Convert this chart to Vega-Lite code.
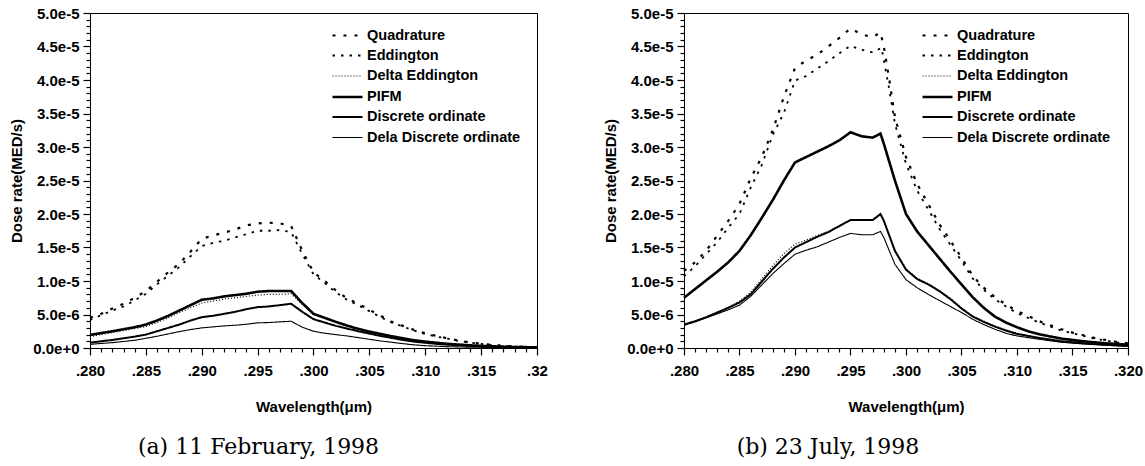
{
  "$schema": "https://vega.github.io/schema/vega-lite/v6.json",
  "background": "white",
  "padding": {"left": 9, "top": 5, "right": 5, "bottom": 3},
  "spacing": 55,
  "config": {
    "view": {"stroke": "black", "strokeWidth": 1},
    "axis": {
      "domainColor": "black", "tickColor": "black", "labelColor": "black", "titleColor": "black",
      "labelFont": "Liberation Sans", "labelFontSize": 15, "labelFontWeight": "bold",
      "titleFont": "Liberation Sans", "titleFontSize": 15, "titleFontWeight": "bold",
      "tickWidth": 1.2, "domainWidth": 1,
      "grid": false, "labelOverlap": false, "labelFlush": false, "labelBound": false
    }
  },
  "datasets": {
    "feb": [
      {"method":"Quadrature","w":0.280,"v":4.5e-6},{"method":"Quadrature","w":0.281,"v":5.1e-6},{"method":"Quadrature","w":0.282,"v":5.9e-6},{"method":"Quadrature","w":0.283,"v":6.6e-6},{"method":"Quadrature","w":0.284,"v":7.5e-6},{"method":"Quadrature","w":0.285,"v":8.5e-6},{"method":"Quadrature","w":0.286,"v":9.9e-6},{"method":"Quadrature","w":0.287,"v":11.3e-6},{"method":"Quadrature","w":0.288,"v":12.6e-6},{"method":"Quadrature","w":0.289,"v":14.4e-6},{"method":"Quadrature","w":0.290,"v":16.3e-6},{"method":"Quadrature","w":0.291,"v":16.8e-6},{"method":"Quadrature","w":0.292,"v":17.2e-6},{"method":"Quadrature","w":0.293,"v":17.7e-6},{"method":"Quadrature","w":0.294,"v":18.3e-6},{"method":"Quadrature","w":0.295,"v":18.6e-6},{"method":"Quadrature","w":0.296,"v":18.7e-6},{"method":"Quadrature","w":0.297,"v":18.6e-6},{"method":"Quadrature","w":0.298,"v":18.2e-6},{"method":"Quadrature","w":0.299,"v":14.5e-6},{"method":"Quadrature","w":0.300,"v":11.3e-6},{"method":"Quadrature","w":0.301,"v":10.0e-6},{"method":"Quadrature","w":0.302,"v":8.6e-6},{"method":"Quadrature","w":0.303,"v":7.4e-6},{"method":"Quadrature","w":0.304,"v":6.6e-6},{"method":"Quadrature","w":0.305,"v":5.7e-6},{"method":"Quadrature","w":0.306,"v":4.8e-6},{"method":"Quadrature","w":0.307,"v":3.9e-6},{"method":"Quadrature","w":0.308,"v":3.3e-6},{"method":"Quadrature","w":0.309,"v":2.7e-6},{"method":"Quadrature","w":0.310,"v":2.2e-6},{"method":"Quadrature","w":0.311,"v":1.8e-6},{"method":"Quadrature","w":0.312,"v":1.45e-6},{"method":"Quadrature","w":0.313,"v":1.1e-6},{"method":"Quadrature","w":0.314,"v":0.85e-6},{"method":"Quadrature","w":0.315,"v":0.65e-6},{"method":"Quadrature","w":0.316,"v":0.45e-6},{"method":"Quadrature","w":0.317,"v":0.33e-6},{"method":"Quadrature","w":0.318,"v":0.23e-6},{"method":"Quadrature","w":0.319,"v":0.16e-6},{"method":"Quadrature","w":0.320,"v":0.12e-6},
      {"method":"Eddington","w":0.280,"v":4.2e-6},{"method":"Eddington","w":0.281,"v":4.9e-6},{"method":"Eddington","w":0.282,"v":5.6e-6},{"method":"Eddington","w":0.283,"v":6.2e-6},{"method":"Eddington","w":0.284,"v":7.1e-6},{"method":"Eddington","w":0.285,"v":8.1e-6},{"method":"Eddington","w":0.286,"v":9.5e-6},{"method":"Eddington","w":0.287,"v":10.8e-6},{"method":"Eddington","w":0.288,"v":12.1e-6},{"method":"Eddington","w":0.289,"v":13.7e-6},{"method":"Eddington","w":0.290,"v":15.2e-6},{"method":"Eddington","w":0.291,"v":15.7e-6},{"method":"Eddington","w":0.292,"v":16.0e-6},{"method":"Eddington","w":0.293,"v":16.5e-6},{"method":"Eddington","w":0.294,"v":17.0e-6},{"method":"Eddington","w":0.295,"v":17.5e-6},{"method":"Eddington","w":0.296,"v":17.5e-6},{"method":"Eddington","w":0.297,"v":17.6e-6},{"method":"Eddington","w":0.298,"v":17.3e-6},{"method":"Eddington","w":0.299,"v":14.0e-6},{"method":"Eddington","w":0.300,"v":11.0e-6},{"method":"Eddington","w":0.301,"v":9.7e-6},{"method":"Eddington","w":0.302,"v":8.3e-6},{"method":"Eddington","w":0.303,"v":7.2e-6},{"method":"Eddington","w":0.304,"v":6.4e-6},{"method":"Eddington","w":0.305,"v":5.5e-6},{"method":"Eddington","w":0.306,"v":4.6e-6},{"method":"Eddington","w":0.307,"v":3.8e-6},{"method":"Eddington","w":0.308,"v":3.2e-6},{"method":"Eddington","w":0.309,"v":2.6e-6},{"method":"Eddington","w":0.310,"v":2.1e-6},{"method":"Eddington","w":0.311,"v":1.7e-6},{"method":"Eddington","w":0.312,"v":1.4e-6},{"method":"Eddington","w":0.313,"v":1.05e-6},{"method":"Eddington","w":0.314,"v":0.8e-6},{"method":"Eddington","w":0.315,"v":0.6e-6},{"method":"Eddington","w":0.316,"v":0.42e-6},{"method":"Eddington","w":0.317,"v":0.3e-6},{"method":"Eddington","w":0.318,"v":0.21e-6},{"method":"Eddington","w":0.319,"v":0.15e-6},{"method":"Eddington","w":0.320,"v":0.1e-6},
      {"method":"Delta Eddington","w":0.280,"v":1.7e-6},{"method":"Delta Eddington","w":0.282,"v":2.3e-6},{"method":"Delta Eddington","w":0.284,"v":2.9e-6},{"method":"Delta Eddington","w":0.285,"v":3.2e-6},{"method":"Delta Eddington","w":0.286,"v":3.8e-6},{"method":"Delta Eddington","w":0.287,"v":4.5e-6},{"method":"Delta Eddington","w":0.288,"v":5.3e-6},{"method":"Delta Eddington","w":0.289,"v":6.0e-6},{"method":"Delta Eddington","w":0.290,"v":6.7e-6},{"method":"Delta Eddington","w":0.291,"v":7.0e-6},{"method":"Delta Eddington","w":0.292,"v":7.3e-6},{"method":"Delta Eddington","w":0.293,"v":7.5e-6},{"method":"Delta Eddington","w":0.294,"v":7.7e-6},{"method":"Delta Eddington","w":0.295,"v":7.9e-6},{"method":"Delta Eddington","w":0.296,"v":8.0e-6},{"method":"Delta Eddington","w":0.297,"v":8.0e-6},{"method":"Delta Eddington","w":0.298,"v":8.1e-6},{"method":"Delta Eddington","w":0.299,"v":6.5e-6},{"method":"Delta Eddington","w":0.300,"v":5.0e-6},{"method":"Delta Eddington","w":0.301,"v":4.4e-6},{"method":"Delta Eddington","w":0.302,"v":3.85e-6},{"method":"Delta Eddington","w":0.303,"v":3.3e-6},{"method":"Delta Eddington","w":0.304,"v":2.85e-6},{"method":"Delta Eddington","w":0.305,"v":2.45e-6},{"method":"Delta Eddington","w":0.306,"v":2.1e-6},{"method":"Delta Eddington","w":0.307,"v":1.75e-6},{"method":"Delta Eddington","w":0.308,"v":1.45e-6},{"method":"Delta Eddington","w":0.309,"v":1.15e-6},{"method":"Delta Eddington","w":0.310,"v":0.95e-6},{"method":"Delta Eddington","w":0.311,"v":0.78e-6},{"method":"Delta Eddington","w":0.312,"v":0.62e-6},{"method":"Delta Eddington","w":0.314,"v":0.4e-6},{"method":"Delta Eddington","w":0.316,"v":0.25e-6},{"method":"Delta Eddington","w":0.318,"v":0.15e-6},{"method":"Delta Eddington","w":0.320,"v":0.1e-6},
      {"method":"PIFM","w":0.280,"v":1.95e-6},{"method":"PIFM","w":0.282,"v":2.5e-6},{"method":"PIFM","w":0.284,"v":3.1e-6},{"method":"PIFM","w":0.285,"v":3.5e-6},{"method":"PIFM","w":0.286,"v":4.1e-6},{"method":"PIFM","w":0.287,"v":4.8e-6},{"method":"PIFM","w":0.288,"v":5.6e-6},{"method":"PIFM","w":0.289,"v":6.4e-6},{"method":"PIFM","w":0.290,"v":7.2e-6},{"method":"PIFM","w":0.291,"v":7.4e-6},{"method":"PIFM","w":0.292,"v":7.7e-6},{"method":"PIFM","w":0.293,"v":7.9e-6},{"method":"PIFM","w":0.294,"v":8.1e-6},{"method":"PIFM","w":0.295,"v":8.4e-6},{"method":"PIFM","w":0.296,"v":8.5e-6},{"method":"PIFM","w":0.297,"v":8.5e-6},{"method":"PIFM","w":0.298,"v":8.5e-6},{"method":"PIFM","w":0.299,"v":6.7e-6},{"method":"PIFM","w":0.300,"v":5.1e-6},{"method":"PIFM","w":0.301,"v":4.5e-6},{"method":"PIFM","w":0.302,"v":3.9e-6},{"method":"PIFM","w":0.303,"v":3.35e-6},{"method":"PIFM","w":0.304,"v":2.85e-6},{"method":"PIFM","w":0.305,"v":2.45e-6},{"method":"PIFM","w":0.306,"v":2.1e-6},{"method":"PIFM","w":0.307,"v":1.75e-6},{"method":"PIFM","w":0.308,"v":1.45e-6},{"method":"PIFM","w":0.309,"v":1.15e-6},{"method":"PIFM","w":0.310,"v":0.95e-6},{"method":"PIFM","w":0.311,"v":0.78e-6},{"method":"PIFM","w":0.312,"v":0.62e-6},{"method":"PIFM","w":0.314,"v":0.4e-6},{"method":"PIFM","w":0.316,"v":0.25e-6},{"method":"PIFM","w":0.318,"v":0.15e-6},{"method":"PIFM","w":0.320,"v":0.1e-6},
      {"method":"Discrete ordinate","w":0.280,"v":0.8e-6},{"method":"Discrete ordinate","w":0.282,"v":1.2e-6},{"method":"Discrete ordinate","w":0.284,"v":1.7e-6},{"method":"Discrete ordinate","w":0.285,"v":2.0e-6},{"method":"Discrete ordinate","w":0.286,"v":2.5e-6},{"method":"Discrete ordinate","w":0.287,"v":3.0e-6},{"method":"Discrete ordinate","w":0.288,"v":3.5e-6},{"method":"Discrete ordinate","w":0.289,"v":4.1e-6},{"method":"Discrete ordinate","w":0.290,"v":4.6e-6},{"method":"Discrete ordinate","w":0.291,"v":4.8e-6},{"method":"Discrete ordinate","w":0.292,"v":5.1e-6},{"method":"Discrete ordinate","w":0.293,"v":5.4e-6},{"method":"Discrete ordinate","w":0.294,"v":5.8e-6},{"method":"Discrete ordinate","w":0.295,"v":6.1e-6},{"method":"Discrete ordinate","w":0.296,"v":6.2e-6},{"method":"Discrete ordinate","w":0.297,"v":6.4e-6},{"method":"Discrete ordinate","w":0.298,"v":6.6e-6},{"method":"Discrete ordinate","w":0.299,"v":5.4e-6},{"method":"Discrete ordinate","w":0.300,"v":4.3e-6},{"method":"Discrete ordinate","w":0.301,"v":3.8e-6},{"method":"Discrete ordinate","w":0.302,"v":3.3e-6},{"method":"Discrete ordinate","w":0.303,"v":2.9e-6},{"method":"Discrete ordinate","w":0.304,"v":2.5e-6},{"method":"Discrete ordinate","w":0.305,"v":2.15e-6},{"method":"Discrete ordinate","w":0.306,"v":1.8e-6},{"method":"Discrete ordinate","w":0.307,"v":1.5e-6},{"method":"Discrete ordinate","w":0.308,"v":1.2e-6},{"method":"Discrete ordinate","w":0.309,"v":0.95e-6},{"method":"Discrete ordinate","w":0.310,"v":0.78e-6},{"method":"Discrete ordinate","w":0.311,"v":0.62e-6},{"method":"Discrete ordinate","w":0.312,"v":0.5e-6},{"method":"Discrete ordinate","w":0.314,"v":0.32e-6},{"method":"Discrete ordinate","w":0.316,"v":0.2e-6},{"method":"Discrete ordinate","w":0.318,"v":0.12e-6},{"method":"Discrete ordinate","w":0.320,"v":0.08e-6},
      {"method":"Dela Discrete ordinate","w":0.280,"v":0.55e-6},{"method":"Dela Discrete ordinate","w":0.282,"v":0.8e-6},{"method":"Dela Discrete ordinate","w":0.284,"v":1.15e-6},{"method":"Dela Discrete ordinate","w":0.285,"v":1.45e-6},{"method":"Dela Discrete ordinate","w":0.286,"v":1.75e-6},{"method":"Dela Discrete ordinate","w":0.287,"v":2.1e-6},{"method":"Dela Discrete ordinate","w":0.288,"v":2.45e-6},{"method":"Dela Discrete ordinate","w":0.289,"v":2.75e-6},{"method":"Dela Discrete ordinate","w":0.290,"v":3.0e-6},{"method":"Dela Discrete ordinate","w":0.291,"v":3.15e-6},{"method":"Dela Discrete ordinate","w":0.292,"v":3.3e-6},{"method":"Dela Discrete ordinate","w":0.293,"v":3.4e-6},{"method":"Dela Discrete ordinate","w":0.294,"v":3.55e-6},{"method":"Dela Discrete ordinate","w":0.295,"v":3.75e-6},{"method":"Dela Discrete ordinate","w":0.296,"v":3.8e-6},{"method":"Dela Discrete ordinate","w":0.297,"v":3.9e-6},{"method":"Dela Discrete ordinate","w":0.298,"v":4.0e-6},{"method":"Dela Discrete ordinate","w":0.299,"v":3.1e-6},{"method":"Dela Discrete ordinate","w":0.300,"v":2.5e-6},{"method":"Dela Discrete ordinate","w":0.301,"v":2.2e-6},{"method":"Dela Discrete ordinate","w":0.302,"v":2.0e-6},{"method":"Dela Discrete ordinate","w":0.303,"v":1.8e-6},{"method":"Dela Discrete ordinate","w":0.304,"v":1.55e-6},{"method":"Dela Discrete ordinate","w":0.305,"v":1.3e-6},{"method":"Dela Discrete ordinate","w":0.306,"v":1.05e-6},{"method":"Dela Discrete ordinate","w":0.307,"v":0.85e-6},{"method":"Dela Discrete ordinate","w":0.308,"v":0.65e-6},{"method":"Dela Discrete ordinate","w":0.309,"v":0.47e-6},{"method":"Dela Discrete ordinate","w":0.310,"v":0.35e-6},{"method":"Dela Discrete ordinate","w":0.312,"v":0.2e-6},{"method":"Dela Discrete ordinate","w":0.314,"v":0.12e-6},{"method":"Dela Discrete ordinate","w":0.316,"v":0.08e-6},{"method":"Dela Discrete ordinate","w":0.318,"v":0.05e-6},{"method":"Dela Discrete ordinate","w":0.320,"v":0.03e-6}
    ],
    "jul": [
      {"method":"Quadrature","w":0.280,"v":11.5e-6},{"method":"Quadrature","w":0.281,"v":12.8e-6},{"method":"Quadrature","w":0.282,"v":14.5e-6},{"method":"Quadrature","w":0.283,"v":16.8e-6},{"method":"Quadrature","w":0.284,"v":19.0e-6},{"method":"Quadrature","w":0.285,"v":21.5e-6},{"method":"Quadrature","w":0.286,"v":25.3e-6},{"method":"Quadrature","w":0.287,"v":28.5e-6},{"method":"Quadrature","w":0.288,"v":32.5e-6},{"method":"Quadrature","w":0.289,"v":37.5e-6},{"method":"Quadrature","w":0.290,"v":41.8e-6},{"method":"Quadrature","w":0.291,"v":42.9e-6},{"method":"Quadrature","w":0.292,"v":43.8e-6},{"method":"Quadrature","w":0.293,"v":45.0e-6},{"method":"Quadrature","w":0.294,"v":46.3e-6},{"method":"Quadrature","w":0.295,"v":47.7e-6},{"method":"Quadrature","w":0.296,"v":46.8e-6},{"method":"Quadrature","w":0.297,"v":46.4e-6},{"method":"Quadrature","w":0.2977,"v":47.1e-6},{"method":"Quadrature","w":0.298,"v":45.0e-6},{"method":"Quadrature","w":0.2985,"v":40.0e-6},{"method":"Quadrature","w":0.299,"v":34.5e-6},{"method":"Quadrature","w":0.300,"v":28.5e-6},{"method":"Quadrature","w":0.301,"v":24.5e-6},{"method":"Quadrature","w":0.302,"v":21.5e-6},{"method":"Quadrature","w":0.303,"v":18.5e-6},{"method":"Quadrature","w":0.304,"v":16.0e-6},{"method":"Quadrature","w":0.305,"v":13.5e-6},{"method":"Quadrature","w":0.306,"v":10.8e-6},{"method":"Quadrature","w":0.307,"v":9.0e-6},{"method":"Quadrature","w":0.308,"v":7.6e-6},{"method":"Quadrature","w":0.309,"v":6.5e-6},{"method":"Quadrature","w":0.310,"v":5.5e-6},{"method":"Quadrature","w":0.311,"v":4.8e-6},{"method":"Quadrature","w":0.312,"v":4.0e-6},{"method":"Quadrature","w":0.313,"v":3.4e-6},{"method":"Quadrature","w":0.314,"v":2.8e-6},{"method":"Quadrature","w":0.315,"v":2.3e-6},{"method":"Quadrature","w":0.316,"v":1.9e-6},{"method":"Quadrature","w":0.317,"v":1.5e-6},{"method":"Quadrature","w":0.318,"v":1.2e-6},{"method":"Quadrature","w":0.319,"v":0.9e-6},{"method":"Quadrature","w":0.320,"v":0.7e-6},
      {"method":"Eddington","w":0.280,"v":10.7e-6},{"method":"Eddington","w":0.281,"v":12.2e-6},{"method":"Eddington","w":0.282,"v":14.0e-6},{"method":"Eddington","w":0.283,"v":15.8e-6},{"method":"Eddington","w":0.284,"v":18.0e-6},{"method":"Eddington","w":0.285,"v":20.0e-6},{"method":"Eddington","w":0.286,"v":23.9e-6},{"method":"Eddington","w":0.287,"v":27.3e-6},{"method":"Eddington","w":0.288,"v":31.8e-6},{"method":"Eddington","w":0.289,"v":35.1e-6},{"method":"Eddington","w":0.290,"v":39.9e-6},{"method":"Eddington","w":0.291,"v":40.6e-6},{"method":"Eddington","w":0.292,"v":41.7e-6},{"method":"Eddington","w":0.293,"v":42.8e-6},{"method":"Eddington","w":0.294,"v":44.0e-6},{"method":"Eddington","w":0.295,"v":45.1e-6},{"method":"Eddington","w":0.296,"v":44.5e-6},{"method":"Eddington","w":0.297,"v":44.1e-6},{"method":"Eddington","w":0.2978,"v":44.8e-6},{"method":"Eddington","w":0.298,"v":43.0e-6},{"method":"Eddington","w":0.2985,"v":38.5e-6},{"method":"Eddington","w":0.299,"v":33.5e-6},{"method":"Eddington","w":0.300,"v":27.5e-6},{"method":"Eddington","w":0.301,"v":23.5e-6},{"method":"Eddington","w":0.302,"v":20.7e-6},{"method":"Eddington","w":0.303,"v":17.8e-6},{"method":"Eddington","w":0.304,"v":15.4e-6},{"method":"Eddington","w":0.305,"v":13.0e-6},{"method":"Eddington","w":0.306,"v":10.4e-6},{"method":"Eddington","w":0.307,"v":8.7e-6},{"method":"Eddington","w":0.308,"v":7.3e-6},{"method":"Eddington","w":0.309,"v":6.2e-6},{"method":"Eddington","w":0.310,"v":5.2e-6},{"method":"Eddington","w":0.311,"v":4.5e-6},{"method":"Eddington","w":0.312,"v":3.8e-6},{"method":"Eddington","w":0.313,"v":3.2e-6},{"method":"Eddington","w":0.314,"v":2.6e-6},{"method":"Eddington","w":0.315,"v":2.2e-6},{"method":"Eddington","w":0.316,"v":1.8e-6},{"method":"Eddington","w":0.317,"v":1.4e-6},{"method":"Eddington","w":0.318,"v":1.1e-6},{"method":"Eddington","w":0.319,"v":0.85e-6},{"method":"Eddington","w":0.320,"v":0.65e-6},
      {"method":"Delta Eddington","w":0.280,"v":3.5e-6},{"method":"Delta Eddington","w":0.281,"v":4.0e-6},{"method":"Delta Eddington","w":0.282,"v":4.6e-6},{"method":"Delta Eddington","w":0.283,"v":5.3e-6},{"method":"Delta Eddington","w":0.284,"v":6.1e-6},{"method":"Delta Eddington","w":0.285,"v":7.0e-6},{"method":"Delta Eddington","w":0.286,"v":8.3e-6},{"method":"Delta Eddington","w":0.287,"v":10.3e-6},{"method":"Delta Eddington","w":0.288,"v":12.3e-6},{"method":"Delta Eddington","w":0.289,"v":14.1e-6},{"method":"Delta Eddington","w":0.290,"v":15.5e-6},{"method":"Delta Eddington","w":0.291,"v":16.1e-6},{"method":"Delta Eddington","w":0.292,"v":16.8e-6},{"method":"Delta Eddington","w":0.293,"v":17.4e-6},{"method":"Delta Eddington","w":0.294,"v":18.3e-6},{"method":"Delta Eddington","w":0.295,"v":19.1e-6},{"method":"Delta Eddington","w":0.296,"v":19.1e-6},{"method":"Delta Eddington","w":0.297,"v":19.1e-6},{"method":"Delta Eddington","w":0.2977,"v":19.9e-6},{"method":"Delta Eddington","w":0.298,"v":19.0e-6},{"method":"Delta Eddington","w":0.299,"v":14.6e-6},{"method":"Delta Eddington","w":0.300,"v":11.8e-6},{"method":"Delta Eddington","w":0.301,"v":10.4e-6},{"method":"Delta Eddington","w":0.302,"v":9.6e-6},{"method":"Delta Eddington","w":0.303,"v":8.6e-6},{"method":"Delta Eddington","w":0.304,"v":7.4e-6},{"method":"Delta Eddington","w":0.305,"v":6.0e-6},{"method":"Delta Eddington","w":0.306,"v":4.8e-6},{"method":"Delta Eddington","w":0.307,"v":4.0e-6},{"method":"Delta Eddington","w":0.308,"v":3.3e-6},{"method":"Delta Eddington","w":0.309,"v":2.7e-6},{"method":"Delta Eddington","w":0.310,"v":2.2e-6},{"method":"Delta Eddington","w":0.312,"v":1.55e-6},{"method":"Delta Eddington","w":0.314,"v":1.05e-6},{"method":"Delta Eddington","w":0.316,"v":0.75e-6},{"method":"Delta Eddington","w":0.318,"v":0.5e-6},{"method":"Delta Eddington","w":0.320,"v":0.3e-6},
      {"method":"PIFM","w":0.280,"v":7.5e-6},{"method":"PIFM","w":0.281,"v":8.8e-6},{"method":"PIFM","w":0.282,"v":10.1e-6},{"method":"PIFM","w":0.283,"v":11.4e-6},{"method":"PIFM","w":0.284,"v":12.8e-6},{"method":"PIFM","w":0.285,"v":14.5e-6},{"method":"PIFM","w":0.286,"v":16.8e-6},{"method":"PIFM","w":0.287,"v":19.4e-6},{"method":"PIFM","w":0.288,"v":22.1e-6},{"method":"PIFM","w":0.289,"v":25.0e-6},{"method":"PIFM","w":0.290,"v":27.7e-6},{"method":"PIFM","w":0.291,"v":28.5e-6},{"method":"PIFM","w":0.292,"v":29.3e-6},{"method":"PIFM","w":0.293,"v":30.1e-6},{"method":"PIFM","w":0.294,"v":31.0e-6},{"method":"PIFM","w":0.295,"v":32.2e-6},{"method":"PIFM","w":0.296,"v":31.6e-6},{"method":"PIFM","w":0.297,"v":31.4e-6},{"method":"PIFM","w":0.2977,"v":32.0e-6},{"method":"PIFM","w":0.298,"v":30.5e-6},{"method":"PIFM","w":0.299,"v":25.0e-6},{"method":"PIFM","w":0.300,"v":20.0e-6},{"method":"PIFM","w":0.301,"v":17.4e-6},{"method":"PIFM","w":0.302,"v":15.4e-6},{"method":"PIFM","w":0.303,"v":13.4e-6},{"method":"PIFM","w":0.304,"v":11.4e-6},{"method":"PIFM","w":0.305,"v":9.5e-6},{"method":"PIFM","w":0.306,"v":7.6e-6},{"method":"PIFM","w":0.307,"v":6.0e-6},{"method":"PIFM","w":0.308,"v":4.7e-6},{"method":"PIFM","w":0.309,"v":3.8e-6},{"method":"PIFM","w":0.310,"v":3.1e-6},{"method":"PIFM","w":0.311,"v":2.5e-6},{"method":"PIFM","w":0.312,"v":2.05e-6},{"method":"PIFM","w":0.314,"v":1.4e-6},{"method":"PIFM","w":0.316,"v":1.0e-6},{"method":"PIFM","w":0.318,"v":0.7e-6},{"method":"PIFM","w":0.320,"v":0.5e-6},
      {"method":"Discrete ordinate","w":0.280,"v":3.5e-6},{"method":"Discrete ordinate","w":0.281,"v":4.0e-6},{"method":"Discrete ordinate","w":0.282,"v":4.6e-6},{"method":"Discrete ordinate","w":0.283,"v":5.3e-6},{"method":"Discrete ordinate","w":0.284,"v":6.0e-6},{"method":"Discrete ordinate","w":0.285,"v":6.8e-6},{"method":"Discrete ordinate","w":0.286,"v":8.0e-6},{"method":"Discrete ordinate","w":0.287,"v":9.9e-6},{"method":"Discrete ordinate","w":0.288,"v":11.8e-6},{"method":"Discrete ordinate","w":0.289,"v":13.5e-6},{"method":"Discrete ordinate","w":0.290,"v":15.0e-6},{"method":"Discrete ordinate","w":0.291,"v":15.8e-6},{"method":"Discrete ordinate","w":0.292,"v":16.6e-6},{"method":"Discrete ordinate","w":0.293,"v":17.3e-6},{"method":"Discrete ordinate","w":0.294,"v":18.2e-6},{"method":"Discrete ordinate","w":0.295,"v":19.1e-6},{"method":"Discrete ordinate","w":0.296,"v":19.1e-6},{"method":"Discrete ordinate","w":0.297,"v":19.1e-6},{"method":"Discrete ordinate","w":0.2977,"v":20.0e-6},{"method":"Discrete ordinate","w":0.298,"v":19.0e-6},{"method":"Discrete ordinate","w":0.299,"v":14.5e-6},{"method":"Discrete ordinate","w":0.300,"v":11.7e-6},{"method":"Discrete ordinate","w":0.301,"v":10.3e-6},{"method":"Discrete ordinate","w":0.302,"v":9.5e-6},{"method":"Discrete ordinate","w":0.303,"v":8.5e-6},{"method":"Discrete ordinate","w":0.304,"v":7.3e-6},{"method":"Discrete ordinate","w":0.305,"v":5.9e-6},{"method":"Discrete ordinate","w":0.306,"v":4.7e-6},{"method":"Discrete ordinate","w":0.307,"v":3.9e-6},{"method":"Discrete ordinate","w":0.308,"v":3.2e-6},{"method":"Discrete ordinate","w":0.309,"v":2.6e-6},{"method":"Discrete ordinate","w":0.310,"v":2.1e-6},{"method":"Discrete ordinate","w":0.312,"v":1.5e-6},{"method":"Discrete ordinate","w":0.314,"v":1.0e-6},{"method":"Discrete ordinate","w":0.316,"v":0.7e-6},{"method":"Discrete ordinate","w":0.318,"v":0.5e-6},{"method":"Discrete ordinate","w":0.320,"v":0.3e-6},
      {"method":"Dela Discrete ordinate","w":0.280,"v":3.4e-6},{"method":"Dela Discrete ordinate","w":0.281,"v":3.9e-6},{"method":"Dela Discrete ordinate","w":0.282,"v":4.5e-6},{"method":"Dela Discrete ordinate","w":0.283,"v":5.1e-6},{"method":"Dela Discrete ordinate","w":0.284,"v":5.7e-6},{"method":"Dela Discrete ordinate","w":0.285,"v":6.4e-6},{"method":"Dela Discrete ordinate","w":0.286,"v":7.7e-6},{"method":"Dela Discrete ordinate","w":0.287,"v":9.4e-6},{"method":"Dela Discrete ordinate","w":0.288,"v":11.1e-6},{"method":"Dela Discrete ordinate","w":0.289,"v":12.6e-6},{"method":"Dela Discrete ordinate","w":0.290,"v":14.0e-6},{"method":"Dela Discrete ordinate","w":0.291,"v":14.6e-6},{"method":"Dela Discrete ordinate","w":0.292,"v":15.1e-6},{"method":"Dela Discrete ordinate","w":0.293,"v":15.8e-6},{"method":"Dela Discrete ordinate","w":0.294,"v":16.5e-6},{"method":"Dela Discrete ordinate","w":0.295,"v":17.1e-6},{"method":"Dela Discrete ordinate","w":0.296,"v":16.9e-6},{"method":"Dela Discrete ordinate","w":0.297,"v":16.9e-6},{"method":"Dela Discrete ordinate","w":0.2977,"v":17.4e-6},{"method":"Dela Discrete ordinate","w":0.298,"v":16.5e-6},{"method":"Dela Discrete ordinate","w":0.299,"v":12.5e-6},{"method":"Dela Discrete ordinate","w":0.300,"v":10.2e-6},{"method":"Dela Discrete ordinate","w":0.301,"v":9.0e-6},{"method":"Dela Discrete ordinate","w":0.302,"v":8.0e-6},{"method":"Dela Discrete ordinate","w":0.303,"v":7.1e-6},{"method":"Dela Discrete ordinate","w":0.304,"v":6.2e-6},{"method":"Dela Discrete ordinate","w":0.305,"v":5.3e-6},{"method":"Dela Discrete ordinate","w":0.306,"v":4.3e-6},{"method":"Dela Discrete ordinate","w":0.307,"v":3.5e-6},{"method":"Dela Discrete ordinate","w":0.308,"v":2.8e-6},{"method":"Dela Discrete ordinate","w":0.309,"v":2.2e-6},{"method":"Dela Discrete ordinate","w":0.310,"v":1.8e-6},{"method":"Dela Discrete ordinate","w":0.312,"v":1.3e-6},{"method":"Dela Discrete ordinate","w":0.314,"v":0.85e-6},{"method":"Dela Discrete ordinate","w":0.316,"v":0.6e-6},{"method":"Dela Discrete ordinate","w":0.318,"v":0.4e-6},{"method":"Dela Discrete ordinate","w":0.320,"v":0.25e-6}
    ]
  },
  "hconcat": [
    {
      "width": 447, "height": 335,
      "data": {"name": "feb"},
      "title": {"text": "(a) 11 February, 1998", "orient": "bottom", "anchor": "middle", "dx": -55, "offset": 23, "font": "DejaVu Serif", "fontSize": 22, "fontWeight": "normal", "color": "black"},
      "mark": {"type": "line", "color": "black", "strokeCap": "butt"},
      "encoding": {
        "x": {"field": "w", "type": "quantitative", "scale": {"domain": [0.28, 0.32], "nice": false, "zero": false},
          "axis": {"title": "Wavelength(\u03bcm)", "titlePadding": 21, "labelPadding": 8,
            "values": [0.28,0.281,0.282,0.283,0.284,0.285,0.286,0.287,0.288,0.289,0.29,0.291,0.292,0.293,0.294,0.295,0.296,0.297,0.298,0.299,0.3,0.301,0.302,0.303,0.304,0.305,0.306,0.307,0.308,0.309,0.31,0.311,0.312,0.313,0.314,0.315,0.316,0.317,0.318,0.319,0.32],
            "labelExpr": "abs(datum.value*200-round(datum.value*200))<0.01 ? (datum.value > 0.3195 ? '.32' : replace(format(datum.value,'.3f'),'0.','.')) : ''",
            "tickSize": {"condition": {"test": "abs(datum.value*200-round(datum.value*200))<0.01", "value": 7}, "value": 4}}},
        "y": {"field": "v", "type": "quantitative", "scale": {"domain": [0, 5e-5], "nice": false},
          "axis": {"title": "Dose rate(MED/s)", "labelPadding": 4, "titlePadding": 8,
            "values": [0,1e-6,2e-6,3e-6,4e-6,5e-6,6e-6,7e-6,8e-6,9e-6,10e-6,11e-6,12e-6,13e-6,14e-6,15e-6,16e-6,17e-6,18e-6,19e-6,20e-6,21e-6,22e-6,23e-6,24e-6,25e-6,26e-6,27e-6,28e-6,29e-6,30e-6,31e-6,32e-6,33e-6,34e-6,35e-6,36e-6,37e-6,38e-6,39e-6,40e-6,41e-6,42e-6,43e-6,44e-6,45e-6,46e-6,47e-6,48e-6,49e-6,50e-6],
            "labelExpr": "abs(datum.value*2e5-round(datum.value*2e5))<0.01 ? format(datum.value,'.1e') : ''",
            "tickSize": {"condition": {"test": "abs(datum.value*2e5-round(datum.value*2e5))<0.01", "value": 7}, "value": 4}}},
        "strokeDash": {"field": "method", "type": "nominal",
          "scale": {"domain": ["Quadrature","Eddington","Delta Eddington","PIFM","Discrete ordinate","Dela Discrete ordinate"], "range": [[3,8],[2.5,6],[1,2],[1,0],[1,0],[1,0]]},
          "legend": {"title": null, "orient": "none", "legendX": 246, "legendY": 11, "symbolType": "M-1.5,0H1.5", "symbolSize": 400, "symbolStrokeColor": "black", "labelFont": "Liberation Sans", "labelFontSize": 14.5, "labelFontWeight": "bold", "labelColor": "black", "labelOffset": 8, "rowPadding": 2.5, "labelLimit": 300, "padding": 0}},
        "strokeWidth": {"field": "method", "type": "nominal",
          "scale": {"type": "ordinal", "domain": ["Quadrature","Eddington","Delta Eddington","PIFM","Discrete ordinate","Dela Discrete ordinate"], "range": [2.2,1.8,1.2,2.6,2,1.1]},
          "legend": {"title": null, "orient": "none", "legendX": 246, "legendY": 11, "symbolType": "M-1.5,0H1.5", "symbolSize": 400, "symbolStrokeColor": "black", "labelFont": "Liberation Sans", "labelFontSize": 14.5, "labelFontWeight": "bold", "labelColor": "black", "labelOffset": 8, "rowPadding": 2.5, "labelLimit": 300, "padding": 0}}
      }
    },
    {
      "width": 444, "height": 335,
      "data": {"name": "jul"},
      "title": {"text": "(b) 23 July, 1998", "orient": "bottom", "anchor": "middle", "dx": -78, "offset": 23, "font": "DejaVu Serif", "fontSize": 22, "fontWeight": "normal", "color": "black"},
      "mark": {"type": "line", "color": "black", "strokeCap": "butt"},
      "encoding": {
        "x": {"field": "w", "type": "quantitative", "scale": {"domain": [0.28, 0.32], "nice": false, "zero": false},
          "axis": {"title": "Wavelength(\u03bcm)", "titlePadding": 21, "labelPadding": 8,
            "values": [0.28,0.281,0.282,0.283,0.284,0.285,0.286,0.287,0.288,0.289,0.29,0.291,0.292,0.293,0.294,0.295,0.296,0.297,0.298,0.299,0.3,0.301,0.302,0.303,0.304,0.305,0.306,0.307,0.308,0.309,0.31,0.311,0.312,0.313,0.314,0.315,0.316,0.317,0.318,0.319,0.32],
            "labelExpr": "abs(datum.value*200-round(datum.value*200))<0.01 ? replace(format(datum.value,'.3f'),'0.','.') : ''",
            "tickSize": {"condition": {"test": "abs(datum.value*200-round(datum.value*200))<0.01", "value": 7}, "value": 4}}},
        "y": {"field": "v", "type": "quantitative", "scale": {"domain": [0, 5e-5], "nice": false},
          "axis": {"title": "Dose rate(MED/s)", "labelPadding": 4, "titlePadding": 8,
            "values": [0,1e-6,2e-6,3e-6,4e-6,5e-6,6e-6,7e-6,8e-6,9e-6,10e-6,11e-6,12e-6,13e-6,14e-6,15e-6,16e-6,17e-6,18e-6,19e-6,20e-6,21e-6,22e-6,23e-6,24e-6,25e-6,26e-6,27e-6,28e-6,29e-6,30e-6,31e-6,32e-6,33e-6,34e-6,35e-6,36e-6,37e-6,38e-6,39e-6,40e-6,41e-6,42e-6,43e-6,44e-6,45e-6,46e-6,47e-6,48e-6,49e-6,50e-6],
            "labelExpr": "abs(datum.value*2e5-round(datum.value*2e5))<0.01 ? format(datum.value,'.1e') : ''",
            "tickSize": {"condition": {"test": "abs(datum.value*2e5-round(datum.value*2e5))<0.01", "value": 7}, "value": 4}}},
        "strokeDash": {"field": "method", "type": "nominal",
          "scale": {"domain": ["Quadrature","Eddington","Delta Eddington","PIFM","Discrete ordinate","Dela Discrete ordinate"], "range": [[3,8],[2.5,6],[1,2],[1,0],[1,0],[1,0]]},
          "legend": {"title": null, "orient": "none", "legendX": 242, "legendY": 11, "symbolType": "M-1.5,0H1.5", "symbolSize": 400, "symbolStrokeColor": "black", "labelFont": "Liberation Sans", "labelFontSize": 14.5, "labelFontWeight": "bold", "labelColor": "black", "labelOffset": 8, "rowPadding": 2.5, "labelLimit": 300, "padding": 0}},
        "strokeWidth": {"field": "method", "type": "nominal",
          "scale": {"type": "ordinal", "domain": ["Quadrature","Eddington","Delta Eddington","PIFM","Discrete ordinate","Dela Discrete ordinate"], "range": [2.2,1.8,1.2,2.6,2,1.1]},
          "legend": {"title": null, "orient": "none", "legendX": 242, "legendY": 11, "symbolType": "M-1.5,0H1.5", "symbolSize": 400, "symbolStrokeColor": "black", "labelFont": "Liberation Sans", "labelFontSize": 14.5, "labelFontWeight": "bold", "labelColor": "black", "labelOffset": 8, "rowPadding": 2.5, "labelLimit": 300, "padding": 0}}
      }
    }
  ],
  "resolve": {
    "scale": {"strokeDash": "independent", "strokeWidth": "independent"},
    "legend": {"strokeDash": "independent", "strokeWidth": "independent"}
  }
}
